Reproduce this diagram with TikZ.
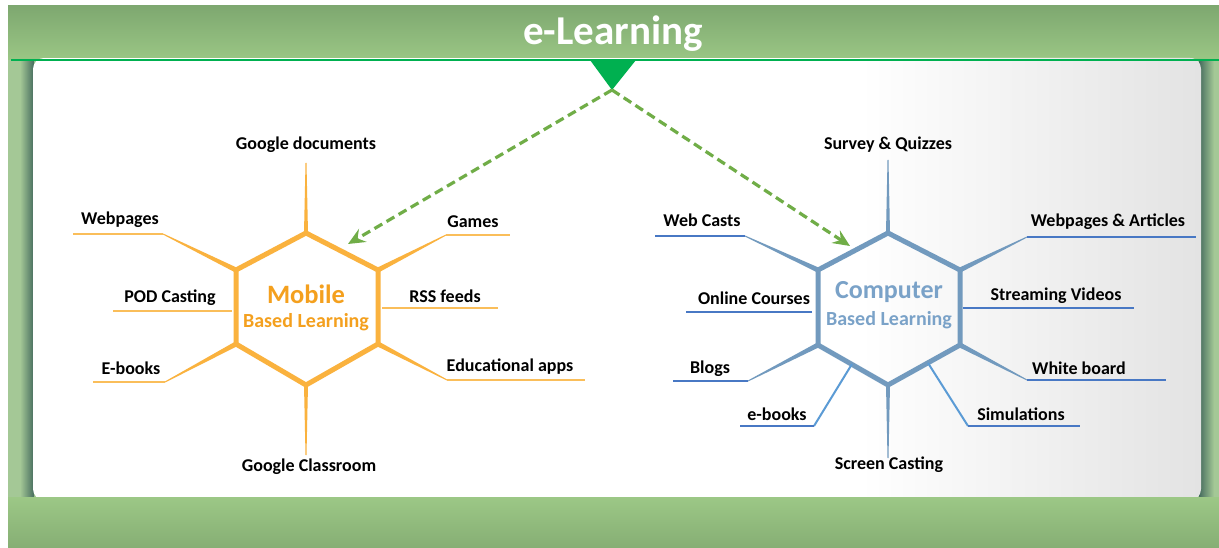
\documentclass[tikz,border=0pt]{standalone}
\usepackage{fontspec}
\setmainfont{Carlito}
\usetikzlibrary{arrows.meta,calc}
\definecolor{hdrtop}{RGB}{126,168,112}
\definecolor{hdrbot}{RGB}{155,199,133}
\definecolor{botlight}{RGB}{156,200,134}
\definecolor{botdark}{RGB}{134,174,116}
\definecolor{pillight}{RGB}{164,200,150}
\definecolor{pildark}{RGB}{70,108,94}
\definecolor{linegreen}{RGB}{0,176,80}
\definecolor{arrgreen}{RGB}{112,173,71}
\definecolor{hexorange}{RGB}{250,178,62}
\definecolor{txtorange}{RGB}{244,160,30}
\definecolor{ulorange}{RGB}{250,190,90}
\definecolor{hexblue}{RGB}{114,154,190}
\definecolor{txtblue}{RGB}{122,162,200}
\definecolor{ulblue}{RGB}{72,120,196}
\definecolor{spkblue}{RGB}{91,155,213}
\newcommand\taperspoke[4]{\fill[#1] ($(#2)!#4!90:(#3)$) -- ($(#3)!0.5pt!-90:(#2)$) -- ($(#3)!0.5pt!90:(#2)$) -- ($(#2)!#4!-90:(#3)$) -- cycle;}
\tikzset{
  lbl/.style={font=\bfseries\fontsize{18}{20}\selectfont, text=black, inner sep=0pt},
  ulo/.style={draw=ulorange, line width=1.3pt},
  ulb/.style={draw=ulblue, line width=1.1pt},
  hexo/.style={draw=hexorange, line width=5pt, line join=miter},
  hexb/.style={draw=hexblue, line width=5pt, line join=miter},
  arr/.style={draw=arrgreen, line width=3.2pt, dash pattern=on 9pt off 5pt, -{Stealth[length=17pt,width=15pt,inset=6pt]}},
}
\begin{document}
\begin{tikzpicture}[x=1pt,y=-1pt]
\useasboundingbox (0,0) rectangle (1219,548);
\fill[white] (0,0) rectangle (1219,548);
% frame
\shade[top color=hdrtop, bottom color=hdrbot] (8,6) rectangle (1219,61);
\fill[pillight] (8,60) rectangle (1219,500);
\shade[left color=pillight, right color=pildark] (20,60) rectangle (34,500);
\shade[left color=pildark, right color=pillight] (1199,60) rectangle (1214,500);
% panel
\begin{scope}
\clip[rounded corners=11pt] (33,58) rectangle (1201,500);
\fill[white] (33,58) rectangle (1201,500);
\shade[left color=white, right color=black!11] (860,58) rectangle (1201,500);
\end{scope}
\shade[top color=botlight, bottom color=botdark] (8,497) rectangle (1219,548);
\draw[linegreen, line width=2.8pt] (11,60) -- (1219,60);
\coordinate (t1) at (590,60);
\coordinate (t2) at (636,60);
\coordinate (apex) at (612,90);
\fill[linegreen] (t1) -- (t2) -- (apex) -- cycle;
\node[font=\bfseries\fontsize{41}{44}\selectfont, text=white, inner sep=0pt] (title) at (613,34) {e-Learning};

% ---------------- Mobile hexagon
\coordinate (m1) at (306,233);
\coordinate (m2) at (378,270);
\coordinate (m3) at (378,344);
\coordinate (m4) at (306,385);
\coordinate (m5) at (236,344);
\coordinate (m6) at (236,270);
\draw[hexo] (m1) -- (m2) -- (m3) -- (m4) -- (m5) -- (m6) -- cycle;
\node[font=\bfseries\fontsize{26.5}{28}\selectfont, text=txtorange, inner sep=0pt] (mob1) at (306,294) {Mobile};
\node[font=\bfseries\fontsize{20}{22}\selectfont, text=txtorange, inner sep=0pt] (mob2) at (306,322) {Based Learning};
% spokes
\coordinate (mt) at (306,163);
\coordinate (mb) at (306,455);
\taperspoke{hexorange}{m1}{mt}{2pt}
\taperspoke{hexorange}{m4}{mb}{2pt}
\coordinate (mwp) at (163,234); \coordinate (mwpe) at (73,234);
\coordinate (meb) at (165,382); \coordinate (mebe) at (93,382);
\coordinate (mga) at (446,235); \coordinate (mgae) at (510,235);
\coordinate (med) at (447,380); \coordinate (mede) at (585,380);
\taperspoke{hexorange}{m6}{mwp}{2.5pt}
\taperspoke{hexorange}{m5}{meb}{2.5pt}
\taperspoke{hexorange}{m2}{mga}{2.5pt}
\taperspoke{hexorange}{m3}{med}{2.5pt}
\draw[ulo] (mwp) -- (mwpe);
\draw[ulo] (meb) -- (mebe);
\draw[ulo] (mga) -- (mgae);
\draw[ulo] (med) -- (mede);
\coordinate (mpa) at (232,311); \coordinate (mpb) at (113,311);
\coordinate (mra) at (382,308); \coordinate (mrb) at (498,308);
\draw[ulo] (mpa) -- (mpb);
\draw[ulo] (mra) -- (mrb);
\node[lbl] (gdoc) at (306,145) {Google documents};
\node[lbl] (gclass) at (309,467) {Google Classroom};
\node[lbl] (webp) at (120,220) {Webpages};
\node[lbl] (pod) at (170,298) {POD Casting};
\node[lbl] (ebk) at (131,368) {E-books};
\node[lbl] (games) at (473,222) {Games};
\node[lbl] (rss) at (445,296) {RSS feeds};
\node[lbl] (edu) at (510,367) {Educational apps};

% ---------------- Computer hexagon
\coordinate (c1) at (888,233);
\coordinate (c2) at (960,270);
\coordinate (c3) at (960,345);
\coordinate (c4) at (888,385);
\coordinate (c5) at (818,345);
\coordinate (c6) at (818,270);
\draw[hexb] (c1) -- (c2) -- (c3) -- (c4) -- (c5) -- (c6) -- cycle;
\node[font=\bfseries\fontsize{26}{28}\selectfont, text=txtblue, inner sep=0pt] (com1) at (889,292) {Computer};
\node[font=\bfseries\fontsize{20}{22}\selectfont, text=txtblue, inner sep=0pt] (com2) at (889,320) {Based Learning};
\coordinate (ct) at (888,160);
\coordinate (cb) at (888,458);
\taperspoke{hexblue}{c1}{ct}{2pt}
\taperspoke{hexblue}{c4}{cb}{2pt}
\coordinate (cwc) at (745,236); \coordinate (cwce) at (655,236);
\coordinate (cbl) at (748,381); \coordinate (cble) at (673,381);
\coordinate (cwa) at (1027,237); \coordinate (cwae) at (1196,237);
\coordinate (cwb) at (1027,380); \coordinate (cwbe) at (1166,380);
\taperspoke{hexblue}{c6}{cwc}{2.5pt}
\taperspoke{hexblue}{c5}{cbl}{2.5pt}
\taperspoke{hexblue}{c2}{cwa}{2.5pt}
\taperspoke{hexblue}{c3}{cwb}{2.5pt}
\draw[ulb] (cwc) -- (cwce);
\draw[ulb] (cbl) -- (cble);
\draw[ulb] (cwa) -- (cwae);
\draw[ulb] (cwb) -- (cwbe);
\coordinate (coa) at (812,312); \coordinate (cob) at (686,312);
\coordinate (csa) at (963,308); \coordinate (csb) at (1134,308);
\draw[ulb] (coa) -- (cob);
\draw[ulb] (csa) -- (csb);
\coordinate (ce1) at (852,364); \coordinate (ce2) at (814,426); \coordinate (ce3) at (740,426);
\coordinate (cs1) at (928,363); \coordinate (cs2) at (968,426); \coordinate (cs3) at (1080,426);
\draw[spkblue, line width=2pt] (ce1) -- (ce2);
\draw[ulb] (ce2) -- (ce3);
\draw[spkblue, line width=2pt] (cs1) -- (cs2);
\draw[ulb] (cs2) -- (cs3);
\node[lbl] (survey) at (888,145) {Survey \& Quizzes};
\node[lbl] (screen) at (889,465) {Screen Casting};
\node[lbl] (webc) at (702,220) {Web Casts};
\node[lbl] (online) at (754,298) {Online Courses};
\node[lbl] (blogs) at (710,369) {Blogs};
\node[lbl] (webart) at (1108,222) {Webpages \& Articles};
\node[lbl] (stream) at (1056,296) {Streaming Videos};
\node[lbl] (white) at (1079,368) {White board};
\node[lbl] (ebooks) at (777,414) {e-books};
\node[lbl] (sim) at (1021,414) {Simulations};

% arrows
\coordinate (mtip) at (348,244);
\coordinate (ctip) at (850,246);
\draw[arr] (apex) -- (mtip);
\draw[arr] (apex) -- (ctip);
\end{tikzpicture}
\end{document}
